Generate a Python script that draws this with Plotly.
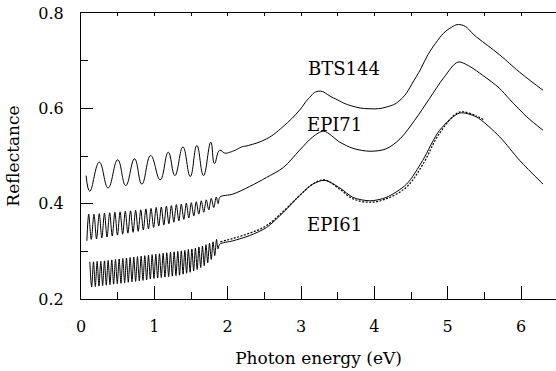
import plotly.graph_objects as go

# ---- data (extrema of interference fringes + smooth part) ----
bts144_x = [0.07, 0.12, 0.25, 0.37, 0.50, 0.61, 0.73, 0.83, 0.95, 1.08, 1.19, 1.28, 1.39, 1.49,
            1.58, 1.67, 1.77, 1.82, 1.89, 1.96, 2.03, 2.10, 2.19, 2.28,
            2.53, 2.75, 2.98, 3.10, 3.24, 3.44, 3.67, 3.94, 4.17, 4.35, 4.57, 4.80, 5.03,
            5.19, 5.39, 5.71, 5.98, 6.30]
bts144_y = [0.459, 0.426, 0.487, 0.433, 0.492, 0.438, 0.494, 0.441, 0.501, 0.450, 0.508, 0.459,
            0.519, 0.457, 0.522, 0.459, 0.529, 0.484, 0.512, 0.506, 0.508, 0.512, 0.519, 0.522,
            0.536, 0.561, 0.596, 0.620, 0.636, 0.622, 0.606, 0.599, 0.603, 0.617, 0.666, 0.729,
            0.768, 0.775, 0.750, 0.712, 0.676, 0.638]

epi71_x = [0.080, 0.105, 0.140, 0.177, 0.212, 0.249, 0.284, 0.320, 0.355, 0.391, 0.426, 0.462,
           0.497, 0.533, 0.568, 0.604, 0.639, 0.675, 0.710, 0.745, 0.780, 0.815, 0.850, 0.885,
           0.920, 0.955, 0.990, 1.025, 1.060, 1.095, 1.130, 1.164, 1.198, 1.232, 1.266, 1.300,
           1.334, 1.368, 1.402, 1.436, 1.470, 1.504, 1.538, 1.572, 1.606, 1.640, 1.674, 1.708,
           1.742, 1.776, 1.810, 1.844, 1.870, 1.895,
           2.07, 2.30, 2.53, 2.76, 2.98, 3.16, 3.31, 3.53, 3.71, 3.94, 4.16, 4.35, 4.55, 4.75,
           4.95, 5.14, 5.30, 5.48, 5.70, 5.85, 6.08, 6.30]
epi71_y = [0.322, 0.378, 0.325, 0.378, 0.326, 0.379, 0.328, 0.380, 0.330, 0.381, 0.332, 0.382,
           0.334, 0.383, 0.336, 0.384, 0.338, 0.385, 0.340, 0.386, 0.342, 0.387, 0.345, 0.389,
           0.347, 0.390, 0.350, 0.392, 0.353, 0.393, 0.355, 0.395, 0.358, 0.396, 0.361, 0.398,
           0.364, 0.399, 0.367, 0.401, 0.370, 0.402, 0.374, 0.404, 0.378, 0.406, 0.382, 0.408,
           0.387, 0.411, 0.392, 0.414, 0.400, 0.414,
           0.420, 0.436, 0.455, 0.476, 0.512, 0.540, 0.552, 0.529, 0.516, 0.510, 0.515, 0.536,
           0.575, 0.620, 0.665, 0.697, 0.688, 0.669, 0.643, 0.618, 0.582, 0.554]

epi61_x = [0.120, 0.145, 0.170, 0.195, 0.220, 0.245, 0.270, 0.295, 0.320, 0.345, 0.370, 0.395,
           0.420, 0.445, 0.470, 0.495, 0.520, 0.545, 0.570, 0.595, 0.620, 0.645, 0.670, 0.695,
           0.720, 0.745, 0.770, 0.795, 0.820, 0.845, 0.870, 0.895, 0.920, 0.945, 0.970, 0.995,
           1.020, 1.045, 1.070, 1.095, 1.120, 1.145, 1.170, 1.195, 1.220, 1.245, 1.270, 1.295,
           1.320, 1.344, 1.368, 1.392, 1.416, 1.440, 1.464, 1.488, 1.512, 1.536, 1.560, 1.584,
           1.608, 1.632, 1.656, 1.680, 1.704, 1.728, 1.752, 1.776, 1.800, 1.824, 1.848, 1.868,
           1.890,
           2.07, 2.30, 2.53, 2.76, 2.98, 3.16, 3.32, 3.53, 3.71, 3.94, 4.16, 4.44, 4.66, 4.89,
           5.16, 5.39, 5.71, 5.98, 6.30]
epi61_y = [0.278, 0.225, 0.278, 0.226, 0.279, 0.227, 0.279, 0.228, 0.280, 0.229, 0.281, 0.230,
           0.282, 0.231, 0.283, 0.232, 0.284, 0.233, 0.285, 0.234, 0.286, 0.235, 0.287, 0.236,
           0.288, 0.237, 0.289, 0.238, 0.290, 0.239, 0.291, 0.240, 0.292, 0.242, 0.293, 0.243,
           0.294, 0.244, 0.295, 0.245, 0.296, 0.246, 0.297, 0.247, 0.298, 0.248, 0.299, 0.249,
           0.300, 0.250, 0.301, 0.252, 0.302, 0.254, 0.304, 0.256, 0.305, 0.259, 0.307, 0.262,
           0.309, 0.266, 0.311, 0.270, 0.314, 0.276, 0.317, 0.283, 0.320, 0.291, 0.325, 0.305,
           0.315,
           0.322, 0.333, 0.350, 0.382, 0.417, 0.441, 0.449, 0.433, 0.413, 0.406, 0.413, 0.441,
           0.491, 0.554, 0.590, 0.582, 0.540, 0.491, 0.441]

fit61_x = [1.90, 2.07, 2.30, 2.53, 2.76, 2.98, 3.16, 3.32, 3.53, 3.71, 3.94, 4.16, 4.44, 4.66,
           4.89, 5.16, 5.39, 5.50]
fit61_y = [0.320, 0.327, 0.338, 0.354, 0.384, 0.417, 0.441, 0.450, 0.430, 0.410, 0.403, 0.410,
           0.435, 0.482, 0.548, 0.592, 0.584, 0.575]

labels = ["BTS144", "EPI71", "EPI61"]
label_x = [3.58, 3.45, 3.45]
label_y = [0.684, 0.566, 0.356]

x_ticks = [0, 1, 2, 3, 4, 5, 6]
y_ticks = [0.2, 0.4, 0.6, 0.8]

FONT = "DejaVu Serif"

fig = go.Figure()
for xs, ys, sm in [(bts144_x, bts144_y, 1.3), (epi71_x, epi71_y, 0.9), (epi61_x, epi61_y, 0.8)]:
    fig.add_trace(go.Scatter(x=xs, y=ys, mode="lines",
                             line=dict(color="black", width=1, shape="spline", smoothing=sm),
                             showlegend=False, hoverinfo="skip"))
fig.add_trace(go.Scatter(x=fit61_x, y=fit61_y, mode="lines",
                         line=dict(color="black", width=1.2, dash="2px,1.5px", shape="spline"),
                         showlegend=False, hoverinfo="skip"))
# invisible trace to carry the top axis
fig.add_trace(go.Scatter(x=[0], y=[0.2], xaxis="x2", mode="markers",
                         marker=dict(opacity=0), showlegend=False, hoverinfo="skip"))

for t, lx, ly in zip(labels, label_x, label_y):
    fig.add_annotation(x=lx, y=ly, text=t, showarrow=False,
                       font=dict(family=FONT, size=18, color="black"))

xr = [0, 6.477]
fig.update_layout(
    width=556, height=371,
    margin=dict(l=81, r=0, t=13, b=72),
    paper_bgcolor="white", plot_bgcolor="white",
    font=dict(family=FONT, size=16, color="black"),
    xaxis=dict(range=xr, tickvals=x_ticks, ticks="inside", ticklen=13, tickwidth=1,
               tickcolor="black", showline=True, linecolor="black", linewidth=1,
               showgrid=False, zeroline=False, ticklabelstandoff=13,
               minor=dict(dtick=0.5, tick0=0, ticks="inside", ticklen=7, tickcolor="black"),
               tickfont=dict(family=FONT, size=16, color="black"),
               title=dict(text="Photon energy (eV)", standoff=16,
                          font=dict(family=FONT, size=17, color="black"))),
    xaxis2=dict(range=xr, overlaying="x", side="top", showticklabels=False,
                ticks="inside", tickvals=[0.5 * i for i in range(13)], ticklen=3,
                tickcolor="black", showline=True, linecolor="black", linewidth=1,
                showgrid=False, zeroline=False),
    yaxis=dict(range=[0.2, 0.8], tickvals=y_ticks, ticks="inside", ticklen=12, tickwidth=1,
               tickcolor="black", showline=True, linecolor="black", linewidth=1,
               showgrid=False, zeroline=False, ticklabelstandoff=13,
               minor=dict(dtick=0.1, tick0=0.2, ticks="inside", ticklen=7, tickcolor="black"),
               tickfont=dict(family=FONT, size=16, color="black"),
               title=dict(text="Reflectance", standoff=14,
                          font=dict(family=FONT, size=17, color="black"))),
)

fig.write_html("out.html")
